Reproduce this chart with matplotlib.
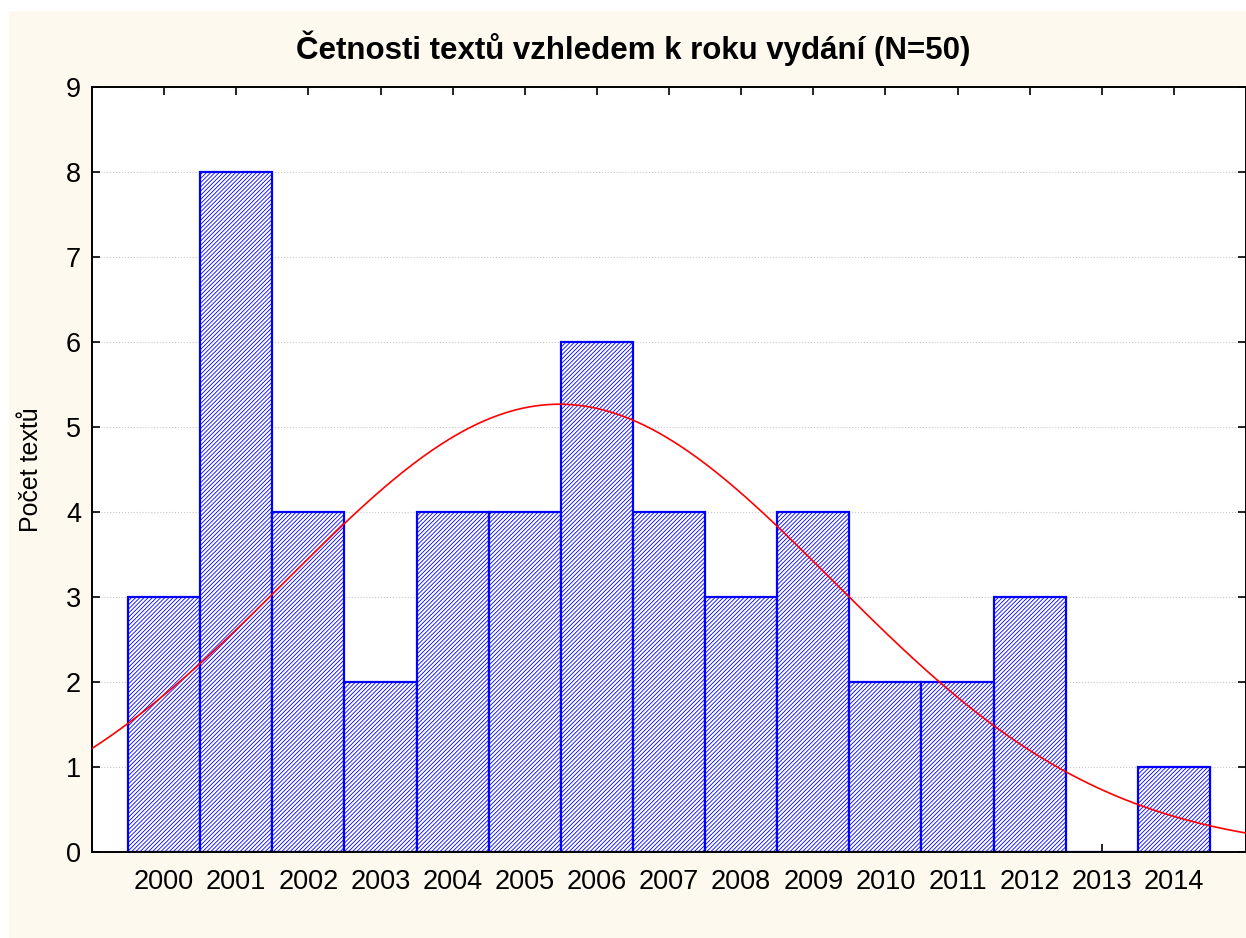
import matplotlib.pyplot as plt
from matplotlib.patches import Rectangle
import numpy as np

plt.rcParams['font.family'] = ['Liberation Sans', 'DejaVu Sans']
plt.rcParams['hatch.linewidth'] = 0.6
plt.rcParams['hatch.color'] = '#0000FF'

years = [2000, 2001, 2002, 2003, 2004, 2005, 2006, 2007,
         2008, 2009, 2010, 2011, 2012, 2013, 2014]
counts = [3, 8, 4, 2, 4, 4, 6, 4, 3, 4, 2, 2, 3, 0, 1]

blue = '#0000FF'
red = '#FF0000'
beige = '#FDF9EF'

fig = plt.figure(figsize=(12.46, 9.38), dpi=100)
fig.patch.set_facecolor('white')
fig.patches.append(Rectangle((9 / 1246, 0), 1, 1 - 11 / 938, transform=fig.transFigure,
                             fc=beige, ec='none', zorder=-10))

ax = fig.add_axes([92 / 1246, 1 - 852 / 938, 1 - 92 / 1246, (852 - 87) / 938])
ax.set_facecolor('white')

ax.bar(years, counts, width=1.0, color='white', edgecolor=blue, linewidth=1.6,
       hatch='////////', zorder=2)

# fitted normal curve (from the counts)
x = np.array(years, dtype=float)
w = np.array(counts, dtype=float)
n = w.sum()
mu = (x * w).sum() / n
sd = np.sqrt(((x - mu) ** 2 * w).sum() / (n - 1))
xs = np.linspace(1998.5, 2015.5, 400)
ys = n / (sd * np.sqrt(2 * np.pi)) * np.exp(-0.5 * ((xs - mu) / sd) ** 2)
ax.plot(xs, ys, color=red, lw=1.2, zorder=3)

ax.set_xlim(1999, 2015)
ax.set_ylim(0, 9)
ax.set_xticks(years)
ax.set_xticklabels([str(y) for y in years], fontsize=19.5)
ax.set_yticks(range(10))
ax.set_yticklabels([str(i) for i in range(10)], fontsize=19.5)
ax.tick_params(axis='both', direction='in', length=6, width=1.2, pad=8,
               top=True, right=True, color='black')
ax.tick_params(axis='x', pad=12)
ax.grid(axis='y', color='#C8C8C8', linestyle=':', linewidth=0.8, zorder=0)
ax.set_axisbelow(True)
for s in ax.spines.values():
    s.set_linewidth(1.4)

ax.set_ylabel('Počet textů', fontsize=18, labelpad=16)

fig.text(633 / 1246, 1 - 48 / 938, 'Četnosti textů vzhledem k roku vydání (N=50)',
         ha='center', va='center', fontsize=22.5, fontweight='bold')

fig.savefig('out.png', dpi=100, facecolor='white')
